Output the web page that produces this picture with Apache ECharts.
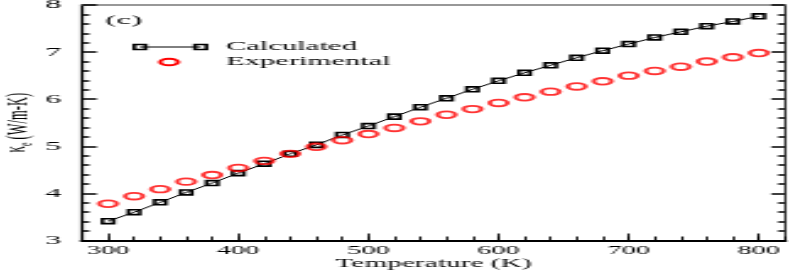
<!DOCTYPE html>
<html>
<head>
<meta charset="utf-8">
<script src="https://cdn.jsdelivr.net/npm/echarts@6/dist/echarts.min.js"></script>
<style>
html,body{margin:0;padding:0;background:#fff;overflow:hidden;width:789px;height:273px;}
#main{width:322px;height:273px;transform:scaleX(2.4503);transform-origin:0 0;}
</style>
</head>
<body>
<div id="main"></div>
<script>
// ---- data ----
const temperature = [300,320,340,360,380,400,420,440,460,480,500,520,540,560,580,600,620,640,660,680,700,720,740,760,780,800];
const calculated  = [3.41,3.60,3.81,4.02,4.22,4.43,4.63,4.84,5.03,5.24,5.43,5.63,5.83,6.02,6.21,6.39,6.56,6.72,6.88,7.03,7.17,7.31,7.43,7.55,7.65,7.76];
const experimental= [3.78,3.94,4.09,4.25,4.39,4.54,4.69,4.84,4.99,5.13,5.26,5.39,5.53,5.67,5.79,5.92,6.04,6.16,6.27,6.38,6.50,6.60,6.69,6.80,6.89,6.98];
const xTickLabels = [300,400,500,600,700,800];
const seriesNames = ['Calculated','Experimental'];
const panelLabel = '(c)';

const FONT = 'Liberation Serif';
const chart = echarts.init(document.getElementById('main'), null, {renderer:'canvas'});
const gridBox = {left:33.47, right:1.7, top:5, bottom:32.5, containLabel:false, outerBoundsMode:'none'};

chart.setOption({
  animation:false,
  backgroundColor:'#fff',
  grid:[Object.assign({}, gridBox), Object.assign({}, gridBox)],
  xAxis:[
    {gridIndex:0, type:'value', position:'bottom', min:280, max:820,
     axisLine:{onZero:false, lineStyle:{color:'#000', width:2}},
     axisTick:{inside:true, length:7, customValues:xTickLabels, lineStyle:{color:'#000', width:0.9}},
     axisLabel:{customValues:xTickLabels, margin:4.5, fontFamily:FONT, fontSize:11.5, color:'#000'},
     splitLine:{show:false},
     name:'Temperature (K)', nameLocation:'middle', nameGap:17.5, nameMoveOverlap:false,
     nameTextStyle:{fontFamily:FONT, fontSize:12, color:'#000'}},
    {gridIndex:0, type:'value', position:'top', min:280, max:820,
     axisLine:{onZero:false, lineStyle:{color:'#777', width:1.5}},
     axisTick:{show:false}, axisLabel:{show:false}, splitLine:{show:false}},
    {gridIndex:1, type:'value', position:'bottom', min:280, max:820, interval:20,
     axisLine:{show:false, onZero:false},
     axisTick:{inside:true, length:4, lineStyle:{color:'#000', width:0.9}},
     axisLabel:{show:false}, splitLine:{show:false}}
  ],
  yAxis:[
    {gridIndex:0, type:'value', position:'left', min:3, max:8, interval:1,
     axisLine:{onZero:false, lineStyle:{color:'#000', width:1.2}},
     axisTick:{inside:true, length:6, lineStyle:{color:'#000', width:1.5}},
     minorTick:{show:true, splitNumber:5, length:3, lineStyle:{color:'#000', width:1.5}},
     axisLabel:{margin:8.5, fontFamily:FONT, fontSize:13, color:'#000'},
     splitLine:{show:false}, minorSplitLine:{show:false},
     name:'{k|κ}{s|e}{t| (W/m-K)}', nameLocation:'middle', nameGap:19, nameRotate:90, nameMoveOverlap:false,
     nameTextStyle:{fontFamily:FONT, fontSize:12, color:'#000', lineHeight:14,
       rich:{
         k:{fontFamily:FONT, fontSize:13, color:'#000', verticalAlign:'top', lineHeight:14},
         s:{fontFamily:FONT, fontSize:8, color:'#000', verticalAlign:'bottom', lineHeight:14},
         t:{fontFamily:FONT, fontSize:12.5, color:'#000', verticalAlign:'middle', lineHeight:14}
       }}},
    {gridIndex:0, type:'value', position:'right', min:3, max:8, interval:1,
     axisLine:{onZero:false, lineStyle:{color:'#000', width:0.8}},
     axisTick:{inside:true, length:5.5, lineStyle:{color:'#000', width:1.5}},
     minorTick:{show:true, splitNumber:5, length:2.8, lineStyle:{color:'#000', width:1.5}},
     axisLabel:{show:false}, splitLine:{show:false}},
    {gridIndex:1, type:'value', show:false, min:3, max:8}
  ],
  series:[
    {name:seriesNames[0], type:'line', xAxisIndex:0, yAxisIndex:0,
     data:temperature.map((t,i)=>[t, calculated[i]]),
     symbol:'rect', symbolSize:[4.6,4.9], showAllSymbol:true,
     lineStyle:{color:'#000', width:1},
     itemStyle:{color:'rgba(0,0,0,0)', borderColor:'#000', borderWidth:1.6},
     z:3},
    {name:seriesNames[1], type:'scatter', xAxisIndex:0, yAxisIndex:0,
     data:temperature.map((t,i)=>[t, experimental[i]]),
     symbol:'circle', symbolSize:[7.2,6.6],
     itemStyle:{color:'rgba(0,0,0,0)', borderColor:'#ff0000', borderWidth:1.9},
     z:4}
  ],
  graphic:[
    {type:'text', left:42.9, top:13, style:{text:panelLabel, fontFamily:FONT, fontSize:13.5, fill:'#000'}},
    {type:'line', shape:{x1:57.1, y1:47, x2:81.9, y2:47}, style:{stroke:'#000', lineWidth:1}},
    {type:'rect', shape:{x:57.1-2.3, y:47-2.45, width:4.6, height:4.9}, style:{fill:'rgba(0,0,0,0)', stroke:'#000', lineWidth:1.6}},
    {type:'rect', shape:{x:81.9-2.3, y:47-2.45, width:4.6, height:4.9}, style:{fill:'rgba(0,0,0,0)', stroke:'#000', lineWidth:1.6}},
    {type:'ellipse', shape:{cx:69, cy:62, rx:3.6, ry:3.3}, style:{fill:'rgba(0,0,0,0)', stroke:'#ff0000', lineWidth:1.9}},
    {type:'text', x:92.2, y:47, style:{text:seriesNames[0], fontFamily:FONT, fontSize:12.5, fill:'#000', verticalAlign:'middle', align:'left'}},
    {type:'text', x:92.2, y:62, style:{text:seriesNames[1], fontFamily:FONT, fontSize:12.5, fill:'#000', verticalAlign:'middle', align:'left'}}
  ]
});
</script>
</body>
</html>
